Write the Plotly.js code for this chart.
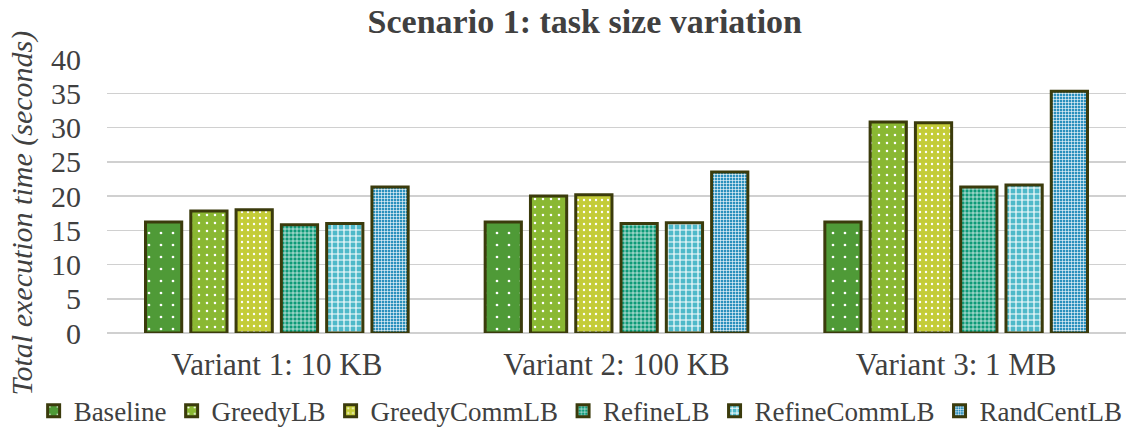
<!DOCTYPE html>
<html>
<head>
<meta charset="utf-8">
<script src="https://cdn.plot.ly/plotly-3.0.1.min.js"></script>
<style>html,body{margin:0;padding:0;background:#fff}#chart{width:1129px;height:431px}</style>
</head>
<body>
<div id="chart"></div>
<script>
const categories = ["Variant 1: 10 KB", "Variant 2: 100 KB", "Variant 3: 1 MB"];
const seriesNames = ["Baseline", "GreedyLB", "GreedyCommLB", "RefineLB", "RefineCommLB", "RandCentLB"];
const baseline = [16.2, 16.2, 16.2];
const greedyLB = [17.8, 20.0, 30.8];
const greedyCommLB = [18.0, 20.2, 30.7];
const refineLB = [15.8, 16.0, 21.3];
const refineCommLB = [16.0, 16.1, 21.6];
const randCentLB = [21.3, 23.5, 35.3];
const yTicks = [0, 5, 10, 15, 20, 25, 30, 35, 40];

const values = [baseline, greedyLB, greedyCommLB, refineLB, refineCommLB, randCentLB];
const colors = ["#4f9a37", "#8ab833", "#c4cc38", "#0e9a78", "#4fb9c9", "#2b90bd"];
const patterns = [
  {shape: ".", size: 12, solidity: 0.04},
  {shape: ".", size: 8, solidity: 0.08},
  {shape: ".", size: 6, solidity: 0.12},
  {shape: "+", size: 4, solidity: 0.3},
  {shape: "+", size: 6, solidity: 0.35},
  {shape: "+", size: 3, solidity: 0.35}
];
const SERIF = "Liberation Serif, Times New Roman, serif";

const traces = seriesNames.map((n, i) => ({
  type: "bar",
  name: n,
  x: categories,
  y: values[i],
  marker: {
    color: colors[i],
    line: {color: "#3b3b0c", width: 3},
    pattern: Object.assign({fgcolor: "#ffffff", bgcolor: colors[i], fillmode: "replace"}, patterns[i])
  },
  hoverinfo: "none"
}));

const layout = {
  width: 1129, height: 431,
  paper_bgcolor: "#ffffff", plot_bgcolor: "#ffffff",
  font: {family: SERIF, color: "#404040", size: 28},
  title: {text: "<b>Scenario 1: task size variation</b>", x: 0.518, xanchor: "center", y: 0.95, yanchor: "middle",
          font: {family: SERIF, size: 34, color: "#404040"}},
  margin: {l: 107, r: 3, t: 59, b: 98, autoexpand: false},
  barmode: "group", bargap: 0.2, bargroupgap: 0.2,
  xaxis: {showgrid: false, showline: false, ticks: "", tickfont: {family: SERIF, size: 31, color: "#404040"}, ticklabelstandoff: 10},
  yaxis: {range: [0, 40], tickvals: yTicks, ticktext: yTicks.map(String), showgrid: true, gridcolor: "#d0d0d0", gridwidth: 1.5,
          zeroline: true, zerolinecolor: "#d0d0d0", zerolinewidth: 1.5, showline: false, ticks: "",
          tickfont: {family: SERIF, size: 30, color: "#404040"}, ticklabelstandoff: 25},
  annotations: [{
    text: "<i>Total execution time (seconds)</i>", xref: "paper", yref: "paper",
    x: -0.083, y: 0.438, xanchor: "center", yanchor: "middle", textangle: -90, showarrow: false,
    font: {family: SERIF, size: 30, color: "#404040"}
  }],
  showlegend: true,
  legend: {orientation: "h", x: -0.072, xanchor: "left", y: -0.285, yanchor: "middle",
           font: {family: SERIF, size: 27, color: "#404040"}, itemwidth: 30, tracegroupgap: 0, traceorder: "normal"}
};
Plotly.newPlot("chart", traces, layout, {staticPlot: true});
</script>
</body>
</html>
